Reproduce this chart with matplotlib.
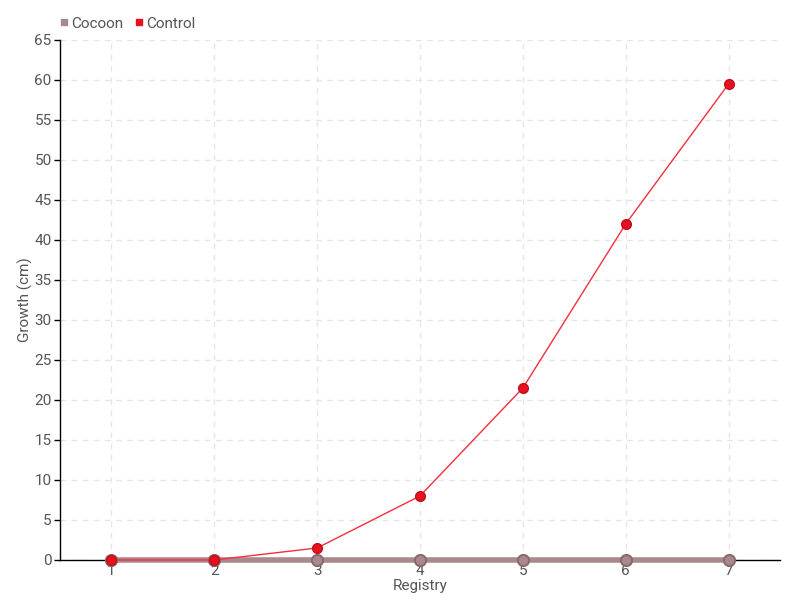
import matplotlib
matplotlib.use("Agg")
import matplotlib.pyplot as plt
from matplotlib.lines import Line2D

categories = ["1", "2", "3", "4", "5", "6", "7"]
cocoon = [0, 0, 0, 0, 0, 0, 0]
control = [0, 0, 1.5, 8, 21.5, 42, 59.5]
yticks = list(range(0, 70, 5))

plt.rcParams['font.family'] = ['Roboto', 'DejaVu Sans']
fig = plt.figure(figsize=(8, 6), dpi=100)
ax = fig.add_axes([0.075, 0.0667, 0.9, 0.8667])

x = list(range(len(categories)))
ax.plot(x, cocoon, color='#a88a8d', lw=4, marker='o', ms=8, mfc='#a88a8d', mec='#8a6a6e',
        mew=1.5, zorder=3, clip_on=False)
ax.plot(x, control, color='#f0303e', lw=1, marker='o', ms=7, mfc='#e8101f', mec='#c0101a',
        mew=1, zorder=4, clip_on=False)

ax.set_xlim(-0.5, len(categories) - 0.5)
ax.set_ylim(0, 65)
ax.set_xticks(x)
ax.set_xticklabels(categories)
ax.set_yticks(yticks)
ax.tick_params(axis='x', length=0, pad=3, labelsize=11, labelcolor='#555555')
ax.tick_params(axis='y', length=4, width=1, labelsize=11, labelcolor='#555555', pad=2)
ax.grid(True, color='#e6e6e6', linestyle=(0, (4, 4)), lw=1)
ax.set_axisbelow(True)
for s in ['top', 'right']:
    ax.spines[s].set_visible(False)
for s in ['left', 'bottom']:
    ax.spines[s].set_color('black')
    ax.spines[s].set_linewidth(1)
ax.spines['bottom'].set_zorder(2)
ax.set_xlabel("Registry", fontsize=11, color='#555555')
ax.xaxis.set_label_coords(0.5, -0.037)
ax.set_ylabel("Growth (cm)", fontsize=11, color='#555555')
ax.yaxis.set_label_coords(-0.038, 0.5)

handles = [Line2D([], [], ls='', marker='s', ms=5, color='#a88a8d'),
           Line2D([], [], ls='', marker='s', ms=5, color='#e8101f')]
fig.legend(handles, ["Cocoon", "Control"], loc='upper left', bbox_to_anchor=(0.055, 0.995),
           ncol=2, frameon=False, fontsize=11, handletextpad=0.1, columnspacing=0.6,
           handlelength=0.8, labelcolor='#555555')

fig.savefig("out.png", dpi=100)
